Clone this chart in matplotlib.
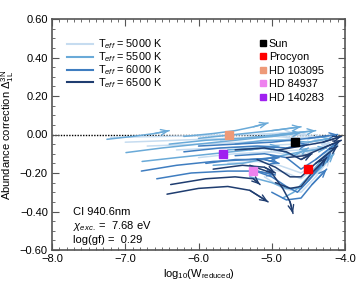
import matplotlib
matplotlib.use("Agg")
import matplotlib.pyplot as plt
from matplotlib.lines import Line2D

plt.rcParams['font.family'] = ['Liberation Sans', 'DejaVu Sans']
plt.rcParams['mathtext.fontset'] = 'custom'
plt.rcParams['mathtext.rm'] = 'Liberation Sans'
plt.rcParams['mathtext.it'] = 'Liberation Sans:italic'
plt.rcParams['mathtext.bf'] = 'Liberation Sans:bold'

# ---- data ----
teff_labels = ["5000 K", "5500 K", "6000 K", "6500 K"]
teff_colors = ["#c6dcf0", "#6aaad8", "#3f7dc0", "#1f3d70"]

curves_5000 = [
    ([-7.20, -6.50, -5.80, -5.20, -4.70], [-0.015, -0.010, -0.005, 0.000, 0.010]),
    ([-7.00, -6.30, -5.60, -5.00, -4.50], [-0.040, -0.030, -0.020, -0.010, 0.000]),
    ([-6.70, -6.00, -5.40, -4.90, -4.40], [-0.060, -0.050, -0.040, -0.030, -0.010]),
    ([-6.30, -5.70, -5.20, -4.70, -4.30], [-0.080, -0.070, -0.060, -0.050, -0.030]),
    ([-6.00, -5.50, -5.00, -4.60, -4.20], [-0.120, -0.100, -0.090, -0.080, -0.060]),
    ([-5.60, -5.20, -4.90, -4.60, -4.40, -4.20], [-0.150, -0.140, -0.160, -0.200, -0.150, -0.080]),
    ([-5.10, -4.85, -4.60, -4.40, -4.20], [-0.220, -0.280, -0.300, -0.220, -0.120]),
    ([-5.70, -5.30, -4.95, -4.60, -4.30], [-0.030, -0.015, -0.010, -0.020, -0.010]),
    ([-5.30, -5.00, -4.70, -4.45, -4.20], [-0.100, -0.090, -0.110, -0.090, -0.040]),
    ([-5.00, -4.80, -4.60, -4.40, -4.15], [-0.180, -0.200, -0.230, -0.170, -0.090]),
]
curves_5500 = [
    ([-7.25, -6.90, -6.60, -6.40], [-0.025, -0.010, 0.005, 0.020]),
    ([-6.99, -6.50, -6.00, -5.50, -5.00, -4.60], [-0.094, -0.070, -0.050, -0.030, -0.010, 0.010]),
    ([-6.77, -6.30, -5.80, -5.30, -4.90], [-0.140, -0.120, -0.100, -0.080, -0.060]),
    ([-6.00, -5.50, -5.00, -4.60], [-0.020, 0.000, 0.020, 0.040]),
    ([-5.80, -5.40, -5.00, -4.60, -4.25], [-0.160, -0.150, -0.120, -0.090, -0.070]),
    ([-5.30, -5.00, -4.80, -4.60, -4.40, -4.15], [-0.220, -0.250, -0.280, -0.280, -0.200, -0.100]),
    ([-4.85, -4.70, -4.50, -4.30, -4.10], [-0.330, -0.300, -0.220, -0.120, -0.050]),
    ([-5.50, -5.10, -4.80, -4.50, -4.20], [-0.050, -0.030, -0.030, -0.040, -0.020]),
    ([-6.40, -5.90, -5.40, -4.90, -4.40], [-0.050, -0.030, -0.020, 0.000, 0.020]),
    ([-6.20, -5.80, -5.50, -5.25, -5.05], [-0.010, 0.005, 0.020, 0.040, 0.060]),
    ([-5.60, -5.20, -4.90, -4.70, -4.50], [-0.080, -0.070, -0.080, -0.110, -0.070]),
]
curves_6000 = [
    ([-6.78, -6.30, -5.80, -5.30, -4.90], [-0.190, -0.160, -0.140, -0.130, -0.120]),
    ([-6.57, -6.10, -5.60, -5.20, -4.95], [-0.230, -0.200, -0.190, -0.190, -0.210]),
    ([-6.00, -5.50, -5.00, -4.50, -4.10], [-0.060, -0.050, -0.040, -0.020, 0.000]),
    ([-5.50, -5.10, -4.80, -4.60, -4.40, -4.10], [-0.110, -0.100, -0.120, -0.180, -0.130, -0.040]),
    ([-5.30, -5.00, -4.80, -4.65, -4.50, -4.20], [-0.180, -0.220, -0.270, -0.300, -0.240, -0.100]),
    ([-5.00, -4.80, -4.60, -4.45, -4.25], [-0.300, -0.340, -0.330, -0.260, -0.180]),
    ([-6.20, -5.70, -5.20, -4.80, -4.50], [-0.090, -0.070, -0.060, -0.070, -0.050]),
    ([-5.90, -5.50, -5.10, -4.90], [-0.150, -0.130, -0.130, -0.150]),
]
curves_6500 = [
    ([-6.38, -5.90, -5.50, -5.25, -5.16], [-0.260, -0.230, -0.220, -0.230, -0.260]),
    ([-6.43, -6.00, -5.60, -5.30, -5.05], [-0.310, -0.280, -0.270, -0.290, -0.350]),
    ([-5.30, -5.00, -4.85, -4.75, -4.71], [-0.160, -0.200, -0.280, -0.350, -0.410]),
    ([-5.20, -4.95, -4.75, -4.60, -4.40, -4.10], [-0.130, -0.170, -0.220, -0.220, -0.150, -0.060]),
    ([-4.90, -4.60, -4.30, -4.05], [-0.080, -0.060, -0.040, -0.010]),
    ([-4.80, -4.55, -4.30, -4.05], [-0.120, -0.110, -0.070, -0.030]),
    ([-4.95, -4.75, -4.60, -4.45, -4.25], [-0.250, -0.280, -0.270, -0.200, -0.120]),
    ([-5.80, -5.40, -5.10, -4.95], [-0.180, -0.160, -0.170, -0.200]),
    ([-5.50, -5.10, -4.80, -4.60, -4.45], [-0.080, -0.070, -0.090, -0.130, -0.100]),
]
curve_sets = [curves_5000, curves_5500, curves_6000, curves_6500]

star_names = ["Sun", "Procyon", "HD 103095", "HD 84937", "HD 140283"]
star_x = [-4.68, -4.50, -5.58, -5.26, -5.67]
star_y = [-0.04, -0.18, 0.00, -0.19, -0.10]
star_colors = ["#000000", "#ff0000", "#ee9a78", "#ee82ee", "#a020f0"]

xticks = [-8.0, -7.0, -6.0, -5.0, -4.0]
yticks = [-0.6, -0.4, -0.2, 0.0, 0.2, 0.4, 0.6]

# ---- figure ----
fig = plt.figure(figsize=(3.63, 2.81), dpi=100)
ax = fig.add_axes([52/363, 1-250/281, 293/363, 231/281])

ax.axhline(0.0, color='black', lw=1.0, ls=(0, (1, 1)), zorder=1)

for ci, cset in enumerate(curve_sets):
    col = teff_colors[ci]
    for xs, ys in cset:
        ax.plot(xs, ys, color=col, lw=1.1, zorder=2 + ci * 0.1, solid_capstyle='round')
        ax.annotate('', xy=(xs[-1], ys[-1]), xytext=(xs[-2], ys[-2]),
                    arrowprops=dict(arrowstyle='->,head_length=0.6,head_width=0.25',
                                    color=col, lw=1.0,
                                    mutation_scale=8, shrinkA=0, shrinkB=0),
                    zorder=2 + ci * 0.1)

for x, y, c in zip(star_x, star_y, star_colors):
    ax.plot([x], [y], 's', color=c, ms=5.5, mec=c, zorder=5)

ax.set_xlim(-8.0, -4.0)
ax.set_ylim(-0.6, 0.6)
ax.set_xticks(xticks)
ax.set_yticks(yticks)
ax.set_xticklabels([f"{v:.1f}".replace('-', '\u2212') for v in xticks], fontsize=8)
ax.set_yticklabels([f"{v:.2f}".replace('-', '\u2212') for v in yticks], fontsize=8)
ax.set_xticks([v / 10 for v in range(-80, -39)], minor=True)
ax.set_yticks([v / 100 for v in range(-60, 61, 5)], minor=True)
ax.tick_params(which='both', direction='in', top=True, right=True, color='#555555')
ax.tick_params(which='major', length=5, width=0.8, pad=3)
ax.tick_params(which='minor', length=2.5, width=0.6)
for s in ax.spines.values():
    s.set_color('#555555')
    s.set_linewidth(1.2)

ax.set_xlabel(r"log$_{10}$(W$_{\rm reduced}$)", fontsize=8, labelpad=2)
ax.set_ylabel(r"Abundance correction $\Delta^{\rm 3N}_{\rm 1L}$", fontsize=8, labelpad=3)

ax.text(0.073, 0.165, "CI 940.6nm", transform=ax.transAxes, fontsize=8, va='center')
ax.text(0.073, 0.105, r"$\chi_{exc.}$ =  7.68 eV", transform=ax.transAxes, fontsize=8, va='center')
ax.text(0.073, 0.045, r"log(gf) =  0.29", transform=ax.transAxes, fontsize=8, va='center')

h1 = [Line2D([], [], color=c, lw=1.5) for c in teff_colors]
l1 = [r"T$_{eff}$ = " + t for t in teff_labels]
leg1 = ax.legend(h1, l1, loc='upper left', bbox_to_anchor=(0.05, 0.92), frameon=False,
                 fontsize=7.8, handlelength=2.4, handletextpad=0.5, labelspacing=-0.08,
                 borderaxespad=0, borderpad=0)
ax.add_artist(leg1)
h2 = [Line2D([], [], marker='s', color=c, ls='none', ms=5) for c in star_colors]
ax.legend(h2, star_names, loc='upper left', bbox_to_anchor=(0.71, 0.915), frameon=False,
          fontsize=7.8, handlelength=0.6, handletextpad=0.2, labelspacing=0.32,
          borderaxespad=0, borderpad=0)

fig.savefig("out.png", dpi=100)
